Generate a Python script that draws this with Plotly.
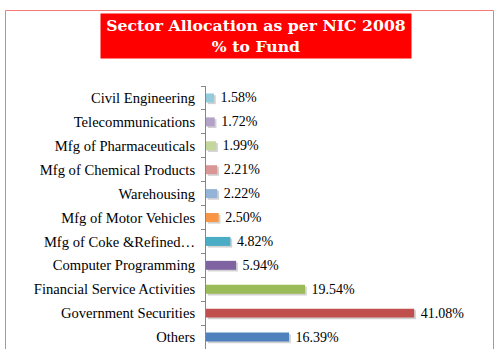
import plotly.graph_objects as go

categories = ["Others", "Government Securities", "Financial Service Activities",
              "Computer Programming", "Mfg of Coke &Refined…", "Mfg of Motor Vehicles",
              "Warehousing", "Mfg of Chemical Products", "Mfg of Pharmaceuticals",
              "Telecommunications", "Civil Engineering"]
values = [16.39, 41.08, 19.54, 5.94, 4.82, 2.50, 2.22, 2.21, 1.99, 1.72, 1.58]
colors = ["#4F81BD", "#C0504D", "#9BBB59", "#8064A2", "#4BACC6", "#F79646",
          "#95B3D7", "#D99694", "#C3D69B", "#B3A2C7", "#93CDDD"]
labels = ["%.2f%%" % v for v in values]

W, H = 494, 349
L, R, T, B = 206, 24, 86, 0
pw, ph = W - L - R, H - T - B
def px(x): return (x - L) / pw
def py(y): return (H - B - y) / ph

bw = 0.375
fig = go.Figure()
fig.add_trace(go.Bar(y=categories, x=values, base=0.35, orientation="h",
                     width=bw, offset=-bw / 2 - 0.07,
                     marker=dict(color="rgba(0,0,0,0.18)", line=dict(width=0)),
                     hoverinfo="skip", showlegend=False))
fig.add_trace(go.Bar(y=categories, x=values, orientation="h",
                     width=bw, offset=-bw / 2,
                     marker=dict(color=colors, line=dict(width=0)),
                     text=[" " + t for t in labels], textposition="outside",
                     cliponaxis=False, constraintext="none",
                     textfont=dict(family="Liberation Serif", size=14, color="#000"),
                     showlegend=False))

fig.update_layout(
    width=W, height=H, margin=dict(l=L, r=R, t=T, b=B, autoexpand=False),
    paper_bgcolor="white", plot_bgcolor="white", barmode="overlay",
    xaxis=dict(range=[0, 52.1], visible=False, fixedrange=True, automargin=False),
    yaxis=dict(range=[-0.5, 10.5], automargin=False,
               showline=True, linecolor="#868686", linewidth=1,
               ticks="outside", tickson="boundaries", ticklen=4, tickcolor="#868686",
               tickfont=dict(family="Liberation Serif", size=14.6, color="#000"),
               ticklabelstandoff=7, showgrid=False, zeroline=False),
    uniformtext=dict(mode=False),
    shapes=[dict(type="rect", xref="paper", yref="paper",
                 x0=px(5.5), x1=px(493.5), y0=py(10.5), y1=py(360),
                 line=dict(color="#F27A7A", width=1), fillcolor="rgba(0,0,0,0)", layer="below")],
    annotations=[dict(xref="paper", yref="paper", x=px(256), y=py(36),
                      xanchor="center", yanchor="middle", showarrow=False,
                      text="<b>Sector Allocation as per NIC 2008<br>% to Fund</b>",
                      font=dict(family="DejaVu Serif", size=15.7, color="white"),
                      bgcolor="#FF0000", width=306, height=40, borderpad=2,
                      align="center")],
)
fig.write_html("out.html", config=dict(displayModeBar=False),
               post_script="document.body.style.margin='0px';document.body.style.overflow='hidden';")
